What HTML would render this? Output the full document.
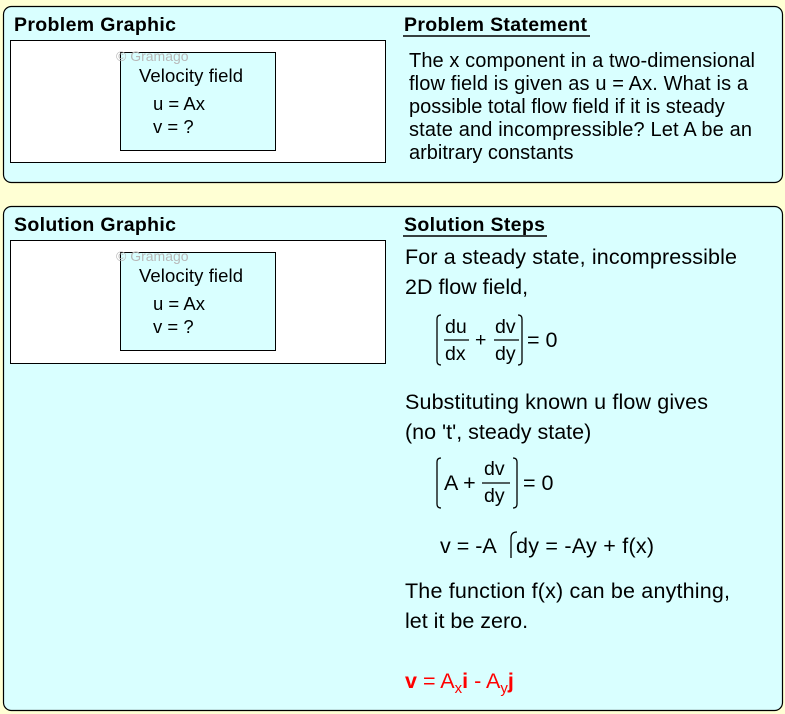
<!DOCTYPE html>
<html><head><meta charset="utf-8"><style>
html,body{margin:0;padding:0;background:#ffffd4;}
svg{display:block;font-family:"Liberation Sans",Arial,sans-serif;}
</style></head><body>
<svg width="785" height="714" viewBox="0 0 785 714" xmlns="http://www.w3.org/2000/svg">
<rect x="0" y="0" width="785" height="714" fill="#ffffd4"/>
<rect x="3.5" y="6.5" width="779" height="176" rx="8" fill="#d9ffff" stroke="#000" stroke-width="1.2"/>
<rect x="3.5" y="206.5" width="779" height="504" rx="8" fill="#d9ffff" stroke="#000" stroke-width="1.2"/>

<g font-weight="bold" font-size="19.5" fill="#000">
<text x="14" y="31" textLength="162">Problem Graphic</text>
<text x="404" y="31" textLength="183">Problem Statement</text>
<text x="14" y="231" textLength="162">Solution Graphic</text>
<text x="404" y="231" textLength="141">Solution Steps</text>
</g>
<line x1="403" y1="36" x2="590" y2="36" stroke="#000" stroke-width="1.5"/>
<line x1="403" y1="236" x2="547" y2="236" stroke="#000" stroke-width="1.5"/>

<rect x="10.5" y="40.5" width="375" height="122" fill="#fff" stroke="#000"/>
<rect x="120.5" y="52.5" width="155" height="98" fill="#d9ffff" stroke="#000"/>
<text x="116" y="61" font-size="14" fill="#b8b8b8">© Gramago</text>
<text x="139" y="82" font-size="18.5" textLength="104">Velocity field</text>
<text x="153" y="110" font-size="18.5">u = Ax</text>
<text x="153" y="133" font-size="18.5">v = ?</text>

<rect x="10.5" y="240.5" width="375" height="123" fill="#fff" stroke="#000"/>
<rect x="120.5" y="252.5" width="155" height="98" fill="#d9ffff" stroke="#000"/>
<text x="116" y="261" font-size="14" fill="#b8b8b8">© Gramago</text>
<text x="139" y="282" font-size="18.5" textLength="104">Velocity field</text>
<text x="153" y="310" font-size="18.5">u = Ax</text>
<text x="153" y="333" font-size="18.5">v = ?</text>

<g font-size="20">
<text x="409" y="67" textLength="346">The x component in a two-dimensional</text>
<text x="409" y="90" textLength="339">flow field is given as u = Ax. What is a</text>
<text x="409" y="113">possible total flow field if it is steady</text>
<text x="409" y="136" textLength="343">state and incompressible? Let A be an</text>
<text x="409" y="159">arbitrary constants</text>
</g>

<g font-size="21.5">
<text x="405" y="264" textLength="332">For a steady state, incompressible</text>
<text x="405" y="294">2D flow field,</text>
<text x="405" y="409" textLength="303">Substituting known u flow gives</text>
<text x="405" y="439">(no 't', steady state)</text>
<text x="405" y="598" textLength="325">The function f(x) can be anything,</text>
<text x="405" y="628">let it be zero.</text>
</g>

<!-- eq 1 -->
<g fill="none" stroke="#000" stroke-width="1.3">
<path d="M441 315 Q437 315 437 319 L437 361 Q437 365 441 365"/>
<path d="M518 315 Q522 315 522 319 L522 361 Q522 365 518 365"/>
<line x1="444" y1="340" x2="469" y2="340"/>
<line x1="494" y1="340" x2="519" y2="340"/>
</g>
<g font-size="19.5">
<text x="445" y="333">du</text>
<text x="445" y="360">dx</text>
<text x="475" y="346">+</text>
<text x="495" y="333">dv</text>
<text x="495" y="360">dy</text>
<text x="527" y="347" font-size="21.5">= 0</text>
</g>

<!-- eq 2 -->
<g fill="none" stroke="#000" stroke-width="1.3">
<path d="M441 458 Q437 458 437 462 L437 504 Q437 508 441 508"/>
<path d="M513 458 Q517 458 517 462 L517 504 Q517 508 513 508"/>
<line x1="482" y1="483" x2="510" y2="483"/>
</g>
<text x="444" y="490" font-size="21.5">A +</text>
<text x="484" y="475" font-size="19.5">dv</text>
<text x="484" y="502" font-size="19.5">dy</text>
<text x="523" y="490" font-size="21.5">= 0</text>

<!-- eq 3 -->
<text x="440" y="553" font-size="21.5">v = -A</text>
<path d="M511 558 L511 538 Q511 532 517 532" fill="none" stroke="#000" stroke-width="1.3"/>
<text x="516" y="553" font-size="21.5" textLength="138">dy = -Ay + f(x)</text>

<!-- answer -->
<text x="405" y="688" font-size="21.5" fill="#ff0000"><tspan font-weight="bold">v</tspan> = A<tspan font-size="15" dy="5">x</tspan><tspan font-weight="bold" dy="-5">i</tspan> - A<tspan font-size="15" dy="5">y</tspan><tspan font-weight="bold" dy="-5">j</tspan></text>
</svg>
</body></html>
